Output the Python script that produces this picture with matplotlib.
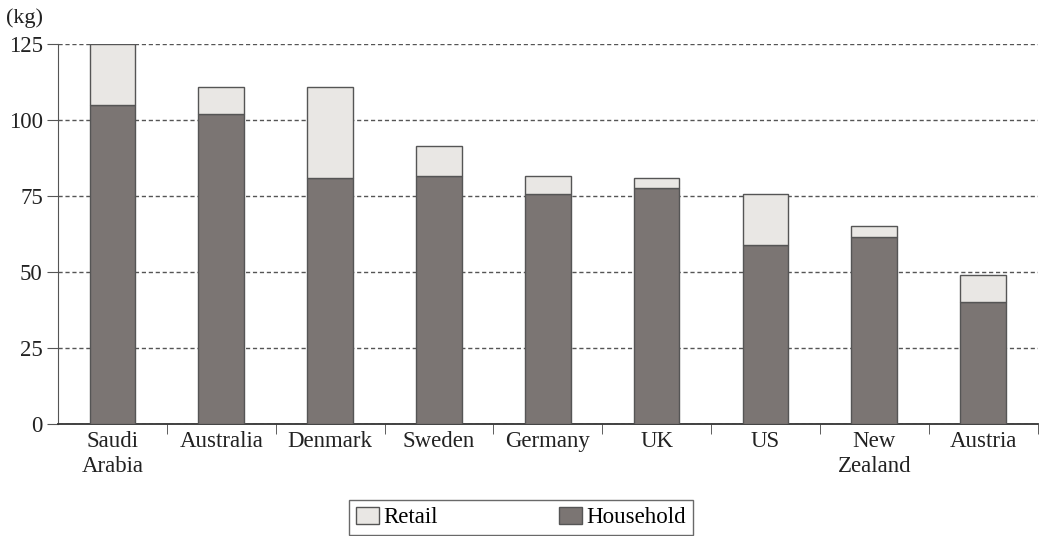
import numpy as np
import matplotlib
matplotlib.use("Agg")
import matplotlib.pyplot as plt

plt.rcParams['font.family'] = ['Liberation Serif', 'DejaVu Serif']

countries = ["Saudi\nArabia", "Australia", "Denmark", "Sweden", "Germany",
             "UK", "US", "New\nZealand", "Austria"]
household = [105, 102, 81, 81.5, 75.5, 77.5, 59, 61.5, 40]
retail = [20, 9, 30, 10, 6, 3.5, 16.5, 3.5, 9]

household_color = "#7b7573"
retail_color = "#e9e7e4"
edge = "#555555"

fig = plt.figure(figsize=(10.42, 5.36), dpi=100)
ax = fig.add_axes([0.0557, 0.209, 0.94, 0.709])

x = np.arange(len(countries))
w = 0.42
ax.bar(x, household, w, color=household_color, edgecolor=edge, linewidth=1.0,
       label="Household", zorder=3)
ax.bar(x, retail, w, bottom=household, color=retail_color, edgecolor=edge,
       linewidth=1.0, label="Retail", zorder=3)

ax.set_xlim(-0.5, 8.5)
ax.set_ylim(0, 125)
ax.set_yticks([0, 25, 50, 75, 100, 125])
ax.yaxis.grid(True, linestyle=(0, (3, 2)), color="#555555", linewidth=1.0, zorder=0)
ax.set_axisbelow(True)

ax.set_xticks(x)
ax.set_xticklabels(countries, fontsize=16.5, color="#222222", linespacing=1.25)
ax.tick_params(axis='x', length=0, pad=5)
ax.set_xticks(np.arange(0.5, 8.6, 1.0), minor=True)
ax.tick_params(axis='x', which='minor', length=7, direction='out', color="#444444")
ax.tick_params(axis='y', labelsize=16.5, length=8, pad=3, color="#555555",
               labelcolor="#222222")

for s in ['top', 'right']:
    ax.spines[s].set_visible(False)
ax.spines['left'].set_color("#555555")
ax.spines['bottom'].set_color("#333333")
ax.spines['bottom'].set_linewidth(1.3)

fig.text(0.006, 0.966, "(kg)", fontsize=16, color="#222222", va='center')

handles, labels = ax.get_legend_handles_labels()
leg = fig.legend(handles[::-1], labels[::-1], loc='lower center', ncol=2,
                 bbox_to_anchor=(0.5, -0.02), fontsize=16.5, frameon=True,
                 fancybox=False, edgecolor="#444444", columnspacing=5.3,
                 handlelength=1.0, handleheight=0.8, handletextpad=0.2,
                 borderpad=0.3)
leg.get_frame().set_linewidth(1.0)

fig.savefig("out.png", dpi=100)
